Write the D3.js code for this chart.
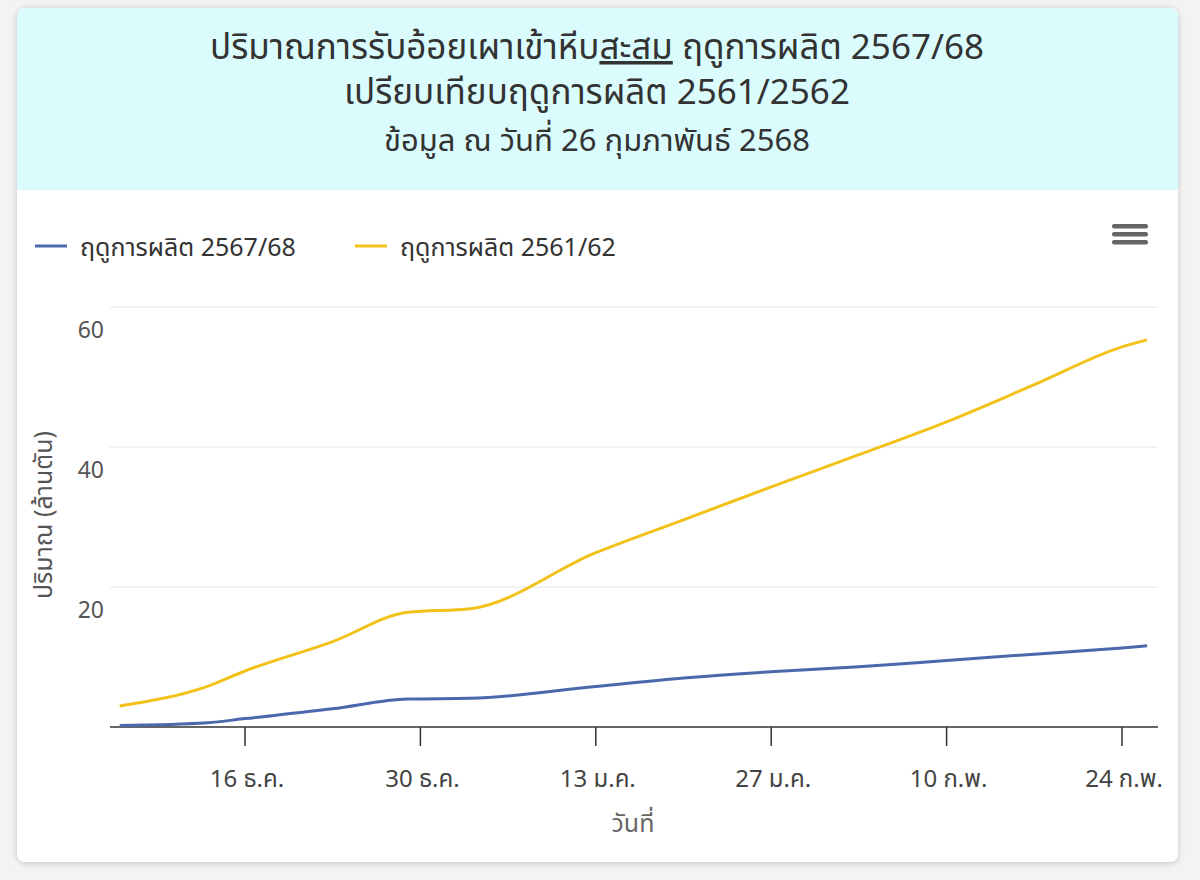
<!DOCTYPE html>
<html><head><meta charset="utf-8">
<script src="https://cdn.jsdelivr.net/npm/d3@7"></script>
<style>
body{margin:0;background:#f3f3f3;font-family:"Noto Sans","Noto Sans Thai",sans-serif;}
</style></head>
<body><div id="chart"></div>
<script>
var dates = ["2024-12-06","2024-12-13","2024-12-16","2024-12-23","2024-12-29","2025-01-03","2025-01-13","2025-01-20","2025-01-27","2025-02-03","2025-02-10","2025-02-17","2025-02-24","2025-02-26"];
var season6768 = [0.2,0.6,1.2,2.6,4.0,4.1,5.8,7.0,7.9,8.6,9.5,10.4,11.3,11.6];
var season6162 = [3.0,5.8,8.0,12.2,16.4,16.9,24.9,29.6,34.3,38.9,43.6,48.9,54.3,55.3];
var xTickDates = ["2024-12-16","2024-12-30","2025-01-13","2025-01-27","2025-02-10","2025-02-24"];
var xTickLabels = ["16 ธ.ค.","30 ธ.ค.","13 ม.ค.","27 ม.ค.","10 ก.พ.","24 ก.พ."];
var yTicks = [20,40,60];
var seriesNames = ["ฤดูการผลิต 2567/68","ฤดูการผลิต 2561/62"];
var seriesColors = ["#4a69ad","#f2c21b"];

var parse = d3.timeParse("%Y-%m-%d");
var svg = d3.select("#chart").append("svg").attr("width",1200).attr("height",880);
var defs = svg.append("defs");
var f = defs.append("filter").attr("id","sh").attr("x","-5%").attr("y","-5%").attr("width","110%").attr("height","110%");
f.append("feDropShadow").attr("dx",0).attr("dy",1).attr("stdDeviation",3).attr("flood-opacity",0.2);
defs.append("clipPath").attr("id","cardclip").append("rect").attr("x",17).attr("y",8).attr("width",1161).attr("height",854).attr("rx",8);

svg.append("rect").attr("x",17).attr("y",8).attr("width",1161).attr("height",854).attr("rx",8).attr("fill","#fff").attr("filter","url(#sh)");
svg.append("rect").attr("x",17).attr("y",8).attr("width",1161).attr("height",182).attr("fill","#dbfcfd").attr("clip-path","url(#cardclip)");

var t = svg.append("g").attr("fill","#333").attr("text-anchor","middle");
var t1 = t.append("text").attr("x",597).attr("y",59).attr("font-size",35);
t1.append("tspan").text("ปริมาณการรับอ้อยเผาเข้าหีบ");
t1.append("tspan").attr("text-decoration","underline").text("สะสม");
t1.append("tspan").text(" ฤดูการผลิต 2567/68");
t.append("text").attr("x",597).attr("y",104).attr("font-size",35).text("เปรียบเทียบฤดูการผลิต 2561/2562");
t.append("text").attr("x",597).attr("y",151).attr("font-size",31).text("ข้อมูล ณ วันที่ 26 กุมภาพันธ์ 2568");

// legend
seriesNames.forEach(function(n,i){
  var lx = [35,355][i];
  svg.append("line").attr("x1",lx).attr("x2",lx+32).attr("y1",246).attr("y2",246).attr("stroke",seriesColors[i]).attr("stroke-width",3);
  svg.append("text").attr("x",lx+45).attr("y",256).attr("font-size",25).attr("fill","#333").text(n);
});
// menu icon
[226,234,242].forEach(function(y){
  svg.append("rect").attr("x",1112).attr("y",y-2).attr("width",36).attr("height",4.5).attr("rx",2).attr("fill","#666");
});

// 16 Dec -> 245, 24 Feb -> 1122
var x = d3.scaleTime().domain([parse("2024-12-16"),parse("2025-02-24")]).range([245,1122]);
var left = 110, right = 1158;
var y = d3.scaleLinear().domain([0,60]).range([727,307]);

svg.append("g").selectAll("line").data(yTicks).join("line")
  .attr("x1",left).attr("x2",right).attr("y1",function(d){return y(d)}).attr("y2",function(d){return y(d)})
  .attr("stroke","#e6e6e6");
svg.append("g").selectAll("text").data(yTicks).join("text")
  .attr("x",104).attr("y",function(d){return y(d)+31}).attr("text-anchor","end")
  .attr("font-size",23).attr("fill","#555").text(function(d){return d});

svg.append("line").attr("x1",left).attr("x2",right).attr("y1",727).attr("y2",727).attr("stroke","#333").attr("stroke-width",1.5);
var xt = svg.append("g");
xTickDates.forEach(function(d,i){
  var px = x(parse(d));
  xt.append("line").attr("x1",px).attr("x2",px).attr("y1",727).attr("y2",746).attr("stroke","#333").attr("stroke-width",1.5);
  xt.append("text").attr("x",px+2).attr("y",787).attr("text-anchor","middle").attr("font-size",24).attr("fill","#444").text(xTickLabels[i]);
});
svg.append("text").attr("x",633).attr("y",832).attr("text-anchor","middle").attr("font-size",25).attr("fill","#666").text("วันที่");
svg.append("text").attr("transform","translate(52,515) rotate(-90)").attr("text-anchor","middle").attr("font-size",25).attr("fill","#555").text("ปริมาณ (ล้านตัน)");

var line = d3.line().curve(d3.curveMonotoneX).x(function(d){return x(parse(d[0]))}).y(function(d){return y(d[1])});
[season6768, season6162].forEach(function(s,i){
  svg.append("path").datum(dates.map(function(d,j){return [d,s[j]]}))
    .attr("d",line).attr("fill","none").attr("stroke",seriesColors[i]).attr("stroke-width",3);
});
</script></body></html>
